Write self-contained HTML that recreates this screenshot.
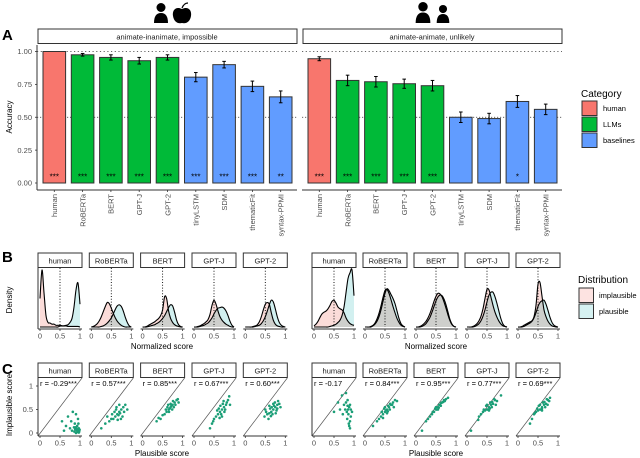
<!DOCTYPE html>
<html><head><meta charset="utf-8"><style>
html,body{margin:0;padding:0;background:#fff}
svg{display:block;font-family:"Liberation Sans",sans-serif}
</style></head><body>
<svg id="fig" width="640" height="458" viewBox="0 0 640 458"></svg>
<script>
const models = ["human","RoBERTa","BERT","GPT-J","GPT-2","tinyLSTM","SDM","thematicFit","syntax-PPMI"];
const cats = ["human","LLMs","LLMs","LLMs","LLMs","baselines","baselines","baselines","baselines"];
const accLeft = [1.00,0.975,0.955,0.93,0.955,0.805,0.90,0.735,0.655];
const errLeft = [0,0.01,0.02,0.025,0.02,0.035,0.025,0.04,0.045];
const starsLeft = ["***","***","***","***","***","***","***","***","**"];
const accRight = [0.945,0.78,0.77,0.755,0.74,0.50,0.49,0.62,0.56];
const errRight = [0.015,0.04,0.04,0.035,0.04,0.04,0.04,0.045,0.04];
const starsRight = ["***","***","***","***","***","","","*",""];
const yTicks = [0,0.25,0.5,0.75,1];
const yTickLabels = ["0.00","0.25","0.50","0.75","1.00"];
const facets = ["human","RoBERTa","BERT","GPT-J","GPT-2"];
// densities on grid 0,0.05..1
const dImpL = [
[5,10,6,2,0.8,0.7,0.5,0.5,0.3,0.3,0.3,0.2,0.2,0.2,0.1,0.1,0.1,0.1,0.1,0.1,0],
[0,0.1,0.3,0.6,1.1,1.8,2.7,3.6,4.3,4.1,3.3,2.4,1.6,1.0,0.6,0.3,0.1,0,0,0,0],
[0,0,0.1,0.3,0.5,0.7,0.9,1.2,1.5,2.0,3.0,5.3,5.0,2.8,1.5,0.8,0.4,0.2,0.1,0,0],
[0,0,0.1,0.2,0.4,0.6,0.9,1.3,2.2,3.8,4.7,4.0,2.8,1.8,1.2,0.8,0.5,0.3,0.1,0,0],
[0,0,0,0,0.1,0.2,0.4,0.9,1.8,3.0,4.0,4.3,4.0,2.5,1.2,0.5,0.2,0.1,0,0,0]];
const dPlaL = [
[0,0,0,0,0,0,0,0,0,0,0.2,0.2,0.2,0.3,0.4,0.8,1.5,3.5,6.5,7.7,4],
[0,0,0,0,0,0.1,0.2,0.4,0.7,1.1,1.6,2.3,3.1,3.7,3.9,3.6,2.8,1.7,0.8,0.2,0],
[0,0,0,0.1,0.2,0.3,0.4,0.6,0.8,1.1,1.5,2.0,2.7,3.4,3.9,3.7,2.6,1.2,0.4,0.1,0],
[0,0,0,0.1,0.2,0.3,0.5,0.7,1.1,1.6,2.3,2.9,3.3,3.4,3.5,3.3,2.8,2.0,1.0,0.3,0],
[0,0,0,0,0,0.1,0.2,0.3,0.6,1.1,1.8,2.8,3.9,4.7,4.4,3.2,1.8,0.8,0.3,0.1,0]];
const dImpR = [
[0.2,0.5,1.0,1.7,2.3,2.6,2.8,3.2,3.8,4.5,4.7,4.2,3.5,3.2,3.0,2.5,1.6,1.0,0.6,0.4,0.3],
[0,0,0,0.1,0.3,0.7,1.4,2.4,3.7,5.2,6.4,6.6,5.9,4.8,3.6,2.5,1.5,0.8,0.3,0.1,0],
[0,0,0.1,0.3,0.6,1.0,1.6,2.4,3.4,4.5,5.4,5.9,5.8,5.3,4.4,3.3,2.1,1.1,0.4,0.1,0],
[0,0,0,0.1,0.3,0.6,1.1,1.9,3.2,5.0,6.6,6.5,5.2,3.8,2.6,1.7,1.0,0.5,0.2,0.1,0],
[0,0,0.1,0.3,0.5,0.7,0.9,1.1,1.8,3.8,7.5,7.8,5.4,3.0,1.8,1.0,0.5,0.2,0.1,0,0]];
const dPlaR = [
[0,0,0,0,0,0,0,0,0.1,0.2,0.3,0.5,0.8,1.2,2.0,3.5,6.0,8.5,9.5,10,5.5],
[0,0,0,0,0.2,0.5,1.0,1.8,3.0,4.5,5.9,6.7,6.4,5.7,5.0,4.1,2.8,1.5,0.6,0.2,0],
[0,0,0,0.1,0.3,0.6,1.1,1.7,2.6,3.6,4.6,5.3,5.6,5.5,4.9,3.9,2.6,1.3,0.5,0.1,0],
[0,0,0,0,0.1,0.3,0.6,1.1,1.9,3.0,4.4,5.6,6.1,6.1,5.3,4.1,2.7,1.4,0.5,0.1,0],
[0,0,0,0.1,0.3,0.5,0.7,1.0,1.6,2.5,3.6,4.3,4.6,4.7,4.0,2.9,1.7,0.8,0.3,0.1,0]];
const rLeft = ["r = -0.29***","r = 0.57***","r = 0.85***","r = 0.67***","r = 0.60***"];
const rRight = ["r = -0.17","r = 0.84***","r = 0.95***","r = 0.77***","r = 0.69***"];
const scatL = [
[[.92,.05],[.95,.02],[.88,.08],[.97,.1],[.9,0],[.85,.12],[.93,.15],[.98,.03],[.8,.05],[.87,.2],[.95,.3],[.75,.1],[.6,.05],[.55,.25],[.7,.35],[.9,.4],[.82,.45],[.96,.2],[.91,.1],[.99,.07],[.86,.03],[.94,.06],[.78,.25],[.65,.15],[.89,.12],[.97,.01]],
[[.65,.4],[.7,.45],[.6,.35],[.55,.3],[.75,.5],[.8,.55],[.5,.3],[.45,.25],[.68,.38],[.72,.42],[.62,.5],[.85,.6],[.9,.5],[.35,.2],[.25,.1],[.58,.45],[.78,.35],[.66,.28],[.7,.6],[.52,.4],[.82,.45],[.4,.35],[.63,.55],[.74,.3]],
[[.7,.55],[.75,.6],[.65,.5],[.6,.45],[.8,.65],[.85,.7],[.55,.4],[.5,.38],[.72,.58],[.68,.52],[.78,.55],[.62,.55],[.88,.72],[.45,.3],[.4,.32],[.82,.6],[.7,.62],[.66,.45],[.76,.68],[.58,.5],[.9,.65],[.35,.25],[.74,.5],[.64,.6]],
[[.7,.5],[.75,.55],[.65,.45],[.6,.4],[.8,.6],[.85,.7],[.55,.35],[.5,.3],[.72,.62],[.68,.4],[.78,.5],[.62,.52],[.88,.78],[.45,.2],[.4,.1],[.82,.65],[.7,.35],[.66,.58],[.76,.45],[.58,.48],[.9,.6],[.48,.25],[.74,.68],[.64,.32]],
[[.7,.5],[.75,.55],[.65,.45],[.6,.42],[.8,.6],[.85,.62],[.55,.4],[.5,.5],[.72,.58],[.68,.4],[.78,.48],[.62,.52],[.82,.68],[.48,.35],[.58,.3],[.8,.52],[.7,.62],[.66,.55],[.76,.42],[.6,.58],[.88,.55],[.52,.45],[.74,.65],[.64,.36]]];
const scatR = [
[[.85,.5],[.88,.55],[.82,.45],[.9,.6],[.8,.65],[.86,.4],[.92,.35],[.84,.7],[.78,.5],[.9,.25],[.87,.2],[.83,.3],[.75,.6],[.7,.8],[.65,.5],[.5,.45],[.92,.5],[.8,.85],[.88,.15],[.95,.45],[.84,.58],[.72,.4],[.9,.1],[.6,.65]],
[[.55,.5],[.6,.55],[.5,.45],[.45,.4],[.65,.6],[.7,.65],[.4,.35],[.35,.3],[.58,.58],[.52,.48],[.62,.5],[.48,.52],[.75,.7],[.3,.25],[.2,.15],[.68,.6],[.55,.42],[.5,.55],[.8,.68],[.42,.45],[.63,.62],[.57,.46],[.45,.32],[.72,.55]],
[[.55,.55],[.6,.6],[.5,.5],[.45,.45],[.65,.65],[.7,.7],[.4,.4],[.35,.35],[.58,.6],[.52,.5],[.62,.58],[.48,.52],[.75,.72],[.3,.3],[.15,.05],[.68,.66],[.55,.5],[.5,.55],[.8,.75],[.42,.45],[.63,.64],[.57,.54],[.25,.25],[.72,.68]],
[[.55,.55],[.6,.6],[.5,.5],[.45,.48],[.65,.62],[.7,.7],[.4,.45],[.35,.4],[.58,.65],[.52,.5],[.62,.55],[.48,.58],[.75,.68],[.3,.35],[.1,.05],[.68,.72],[.55,.48],[.5,.6],[.85,.8],[.42,.5],[.63,.66],[.57,.52],[.28,.28],[.72,.6]],
[[.6,.55],[.65,.6],[.55,.5],[.5,.48],[.7,.62],[.75,.7],[.45,.45],[.4,.4],[.62,.65],[.58,.5],[.68,.55],[.52,.58],[.78,.68],[.35,.3],[.3,.2],[.72,.72],[.6,.48],[.55,.6],[.8,.75],[.48,.52],[.66,.66],[.6,.52],[.42,.42],[.74,.6]]];

const NS="http://www.w3.org/2000/svg";
const svg=document.getElementById('fig');
function el(tag,attrs,parent,txt){const e=document.createElementNS(NS,tag);for(const k in attrs)e.setAttribute(k,attrs[k]);if(txt!==undefined)e.textContent=txt;(parent||svg).appendChild(e);return e;}
const colors={human:"#F8766D",LLMs:"#00BA38",baselines:"#619CFF"};
const grey="#4d4d4d";

[["A",2,40],["B",2,262],["C",2,374]].forEach(([t,x,y])=>{
  const e=el('text',{x:x,y:y,'font-size':15,'font-weight':'bold',fill:'#000'},svg,t);
  
  
});

function person(g,cx,top,s){el('circle',{cx:cx,cy:top+4.5*s,r:4.5*s,fill:'#000'},g);el('path',{d:`M${cx-7*s},${top+20*s} Q${cx-7*s},${top+10*s} ${cx},${top+10*s} Q${cx+7*s},${top+10*s} ${cx+7*s},${top+20*s} Z`,fill:'#000'},g);}
const ic1=el('g',{});
person(ic1,161,3,1);
el('path',{d:'M182,9 C176,6 172,10 173,16 C174,22 178,24 182,23 C186,24 190,22 191,16 C192,10 188,6 182,9 Z',fill:'#000'},ic1);
el('path',{d:'M182,8 Q184,3 188,3',stroke:'#000','stroke-width':1.2,fill:'none'},ic1);
const ic2=el('g',{});
person(ic2,423,2,1.05);person(ic2,443,5,0.9);

const yTop=51.5,yBot=183;
function yA(v){return yBot-(yBot-yTop)*v;}
function xA(i,x0){return x0+17.3+28.3*i;}
function panelA(x0,x1,title,acc,err,stars,side){
  const g=el('g',{});
  
  
  const st=el('rect',{x:x0+1,y:29,width:x1-x0-1,height:14.5,fill:'#fff',stroke:'#333','stroke-width':1},g);
  
  
  el('text',{x:(x0+x1)/2,y:39.5,'font-size':7.5,'text-anchor':'middle',fill:'#1a1a1a'},g,title);
  [1,0.5].forEach(v=>el('line',{x1:x0,x2:x1,y1:yA(v),y2:yA(v),stroke:'#333','stroke-width':0.8,'stroke-dasharray':v===1?'1.2,2.5':'1.2,1.8'},g));
  acc.forEach((v,i)=>{
    const cx=xA(i,x0);
    const b=el('rect',{x:cx-11.3,y:yA(v),width:22.6,height:yA(0)-yA(v),fill:colors[cats[i]],stroke:'#333','stroke-width':1},g);
    
    
    if(err[i]>0){
      el('line',{x1:cx,x2:cx,y1:yA(v+err[i]),y2:yA(v-err[i]),stroke:'#000','stroke-width':1},g);
      el('line',{x1:cx-1.8,x2:cx+1.8,y1:yA(v+err[i]),y2:yA(v+err[i]),stroke:'#000','stroke-width':1},g);
      el('line',{x1:cx-1.8,x2:cx+1.8,y1:yA(v-err[i]),y2:yA(v-err[i]),stroke:'#000','stroke-width':1},g);
    }
    if(stars[i])el('text',{x:cx,y:179.5,'font-size':8,'text-anchor':'middle',fill:'#000'},g,stars[i]);
    const t=el('text',{transform:`translate(${cx+2.8},194) rotate(-90)`,'font-size':7.5,'text-anchor':'end',fill:grey},g,models[i]);
    
    
    el('line',{x1:cx,x2:cx,y1:190,y2:192,stroke:'#333','stroke-width':0.8},g);
  });
  el('line',{x1:x0,x2:x1,y1:190,y2:190,stroke:'#333','stroke-width':1},g);
}
panelA(37,297,"animate-inanimate, impossible",accLeft,errLeft,starsLeft,'left');
panelA(302,562,"animate-animate, unlikely",accRight,errRight,starsRight,'right');
el('line',{x1:37,x2:37,y1:45,y2:190,stroke:'#333','stroke-width':1});
yTicks.forEach((v,i)=>{el('text',{x:32,y:yA(v)+2.7,'font-size':7.5,'text-anchor':'end',fill:grey},svg,yTickLabels[i]);el('line',{x1:35,x2:37,y1:yA(v),y2:yA(v),stroke:'#333','stroke-width':0.8});});
const ya=el('text',{transform:'translate(12,117) rotate(-90)','font-size':8,'text-anchor':'middle',fill:'#000'},svg,'Accuracy');


const lg=el('g',{});
el('text',{x:581,y:97,'font-size':10,fill:'#000'},lg,'Category');
["human","LLMs","baselines"].forEach((c,i)=>{
  const r=el('rect',{x:582,y:101+16*i,width:15,height:14.5,fill:colors[c],stroke:'#333','stroke-width':1},lg);
  
  
  el('text',{x:603,y:111+16*i,'font-size':7.5,fill:'#000'},lg,c);
});

const leftStarts=[38,89.3,140.6,192,243.3], rightStarts=[312,363,414,465,516];
const pw=44;
function xs(x0,v){return x0+2+40*v;}
const bBase=327,bScale=5.7;
function yB(v){return bBase-bScale*v;}
function smoothPath(pts){let d=`M${pts[0][0]},${pts[0][1]}`;for(let i=0;i<pts.length-1;i++){const p0=pts[Math.max(0,i-1)],p1=pts[i],p2=pts[i+1],p3=pts[Math.min(pts.length-1,i+2)];d+=` C${p1[0]+(p2[0]-p0[0])/6},${p1[1]+(p2[1]-p0[1])/6} ${p2[0]-(p3[0]-p1[0])/6},${p2[1]-(p3[1]-p1[1])/6} ${p2[0]},${p2[1]}`;}return d;}
function strip(g,x0,y,label,name){const r=el('rect',{x:x0,y:y,width:pw,height:14.5,fill:'#fff',stroke:'#333','stroke-width':1},g);el('text',{x:x0+pw/2,y:y+10.3,'font-size':7.5,'text-anchor':'middle',fill:'#1a1a1a'},g,label);}
function xticks(g,x0,y){[0,0.5,1].forEach(v=>{el('line',{x1:xs(x0,v),x2:xs(x0,v),y1:y,y2:y+2,stroke:'#333','stroke-width':0.8},g);el('text',{x:xs(x0,v),y:y+9.5,'font-size':7.5,'text-anchor':'middle',fill:grey},g,v===0.5?'0.5':String(v));});}
function density(starts,imp,pla,side){
  starts.forEach((x0,f)=>{
    const g=el('g',{});
    
    
    strip(g,x0,253,facets[f],'density-strip-'+side+'-'+facets[f]);
    [[imp[f],'#fbdcd9'],[pla[f],'#d2f0f0']].forEach(([arr,c])=>{
      const pts=arr.map((v,i)=>[xs(x0,i*0.05),yB(v)]);
      const d=smoothPath(pts);
      el('path',{d:d+` L${pts[pts.length-1][0]},${bBase} L${pts[0][0]},${bBase} Z`,fill:c,stroke:'none',style:'mix-blend-mode:multiply'},g);
    });
    [imp[f],pla[f]].forEach(arr=>{
      const pts=arr.map((v,i)=>[xs(x0,i*0.05),yB(v)]);
      el('path',{d:smoothPath(pts),fill:'none',stroke:'#000','stroke-width':1.1},g);
    });
    el('line',{x1:xs(x0,0.5),x2:xs(x0,0.5),y1:268,y2:bBase,stroke:'#000','stroke-width':0.9,'stroke-dasharray':'1,1.8'},g);
    el('line',{x1:x0,x2:x0+pw,y1:329,y2:329,stroke:'#333','stroke-width':1},g);
    xticks(g,x0,329);
  });
  el('line',{x1:starts[0],x2:starts[0],y1:268,y2:329,stroke:'#333','stroke-width':1});
}
density(leftStarts,dImpL,dPlaL,'left');
density(rightStarts,dImpR,dPlaR,'right');
[162,436].forEach(cx=>el('text',{x:cx,y:349,'font-size':8,'text-anchor':'middle',fill:'#000'},svg,'Normalized score'));
el('text',{transform:'translate(12,300) rotate(-90)','font-size':8,'text-anchor':'middle',fill:'#000'},svg,'Density');
const lg2=el('g',{});
el('text',{x:578,y:283,'font-size':10,fill:'#000'},lg2,'Distribution');
[["implausible","#fde3e1"],["plausible","#d6f2f2"]].forEach(([n,c],i)=>{
  const r=el('rect',{x:579,y:288+16*i,width:14.5,height:14.5,fill:c,stroke:'#333','stroke-width':1},lg2);
  
  
  el('text',{x:599,y:298+16*i,'font-size':7.5,fill:'#000'},lg2,n);
});

const cBase=433,cScale=47;
function yC(v){return cBase-cScale*v;}
function scatter(starts,data,rl,side){
  starts.forEach((x0,f)=>{
    const g=el('g',{});
    
    
    strip(g,x0,363,facets[f],'scatter-strip-'+side+'-'+facets[f]);
    el('line',{x1:x0,y1:436,x2:x0+pw,y2:378,stroke:'#555','stroke-width':0.7},g);
    data[f].forEach(([px,py])=>{
      const c=el('circle',{cx:xs(x0,px),cy:yC(py),r:1.3,fill:'#1b9e77'},g);
      
      
    });
    el('text',{x:x0+2,y:386,'font-size':7.5,fill:'#000'},g,rl[f]);
    el('line',{x1:x0,x2:x0+pw,y1:436,y2:436,stroke:'#333','stroke-width':1},g);
    xticks(g,x0,436);
  });
  el('line',{x1:starts[0],x2:starts[0],y1:378,y2:436,stroke:'#333','stroke-width':1});
}
scatter(leftStarts,scatL,rLeft,'left');
scatter(rightStarts,scatR,rRight,'right');
[[0,"0"],[0.5,"0.5"],[1,"1"]].forEach(([v,t])=>{el('text',{x:33,y:yC(v)+2.7,'font-size':7.5,'text-anchor':'end',fill:grey},svg,t);el('line',{x1:36,x2:38,y1:yC(v),y2:yC(v),stroke:'#333','stroke-width':0.8});});
[162,436].forEach(cx=>el('text',{x:cx,y:456,'font-size':8,'text-anchor':'middle',fill:'#000'},svg,'Plausible score'));
el('text',{transform:'translate(12,405) rotate(-90)','font-size':8,'text-anchor':'middle',fill:'#000'},svg,'Implausible score');
</script>
</body></html>
